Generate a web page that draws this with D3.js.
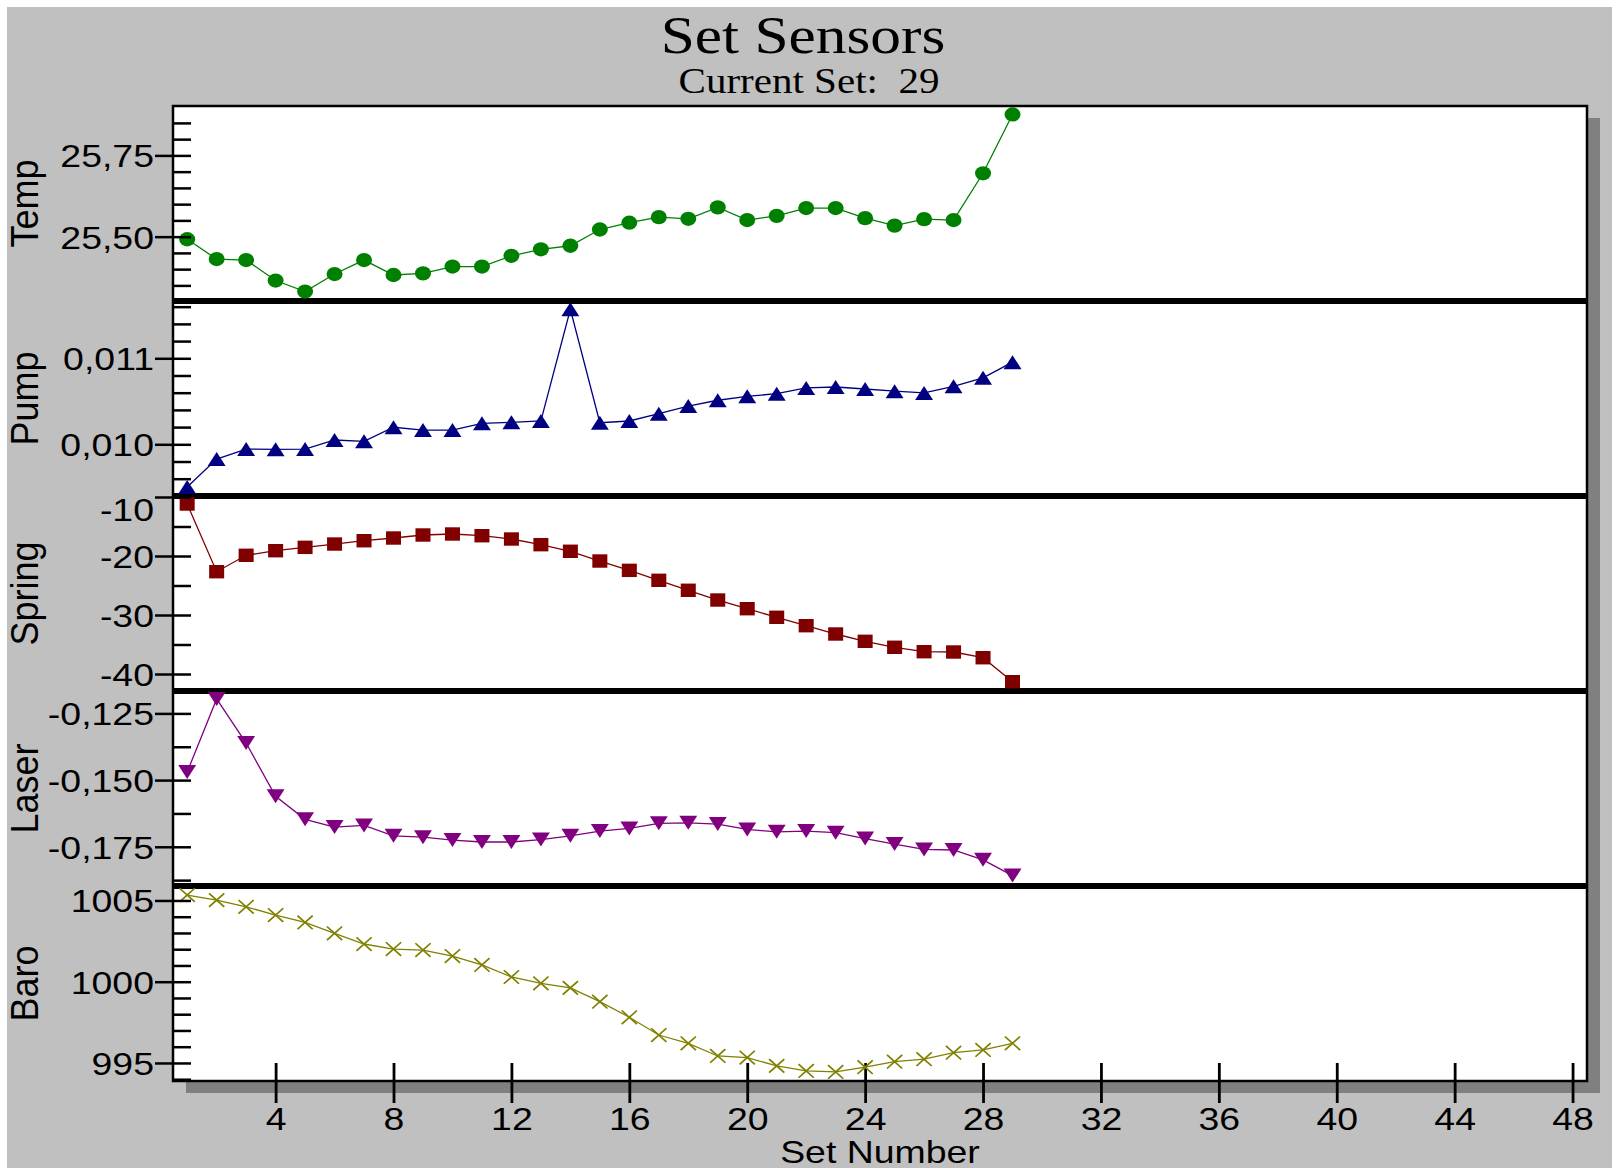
<!DOCTYPE html>
<html>
<head>
<meta charset="utf-8">
<script src="https://cdn.jsdelivr.net/npm/d3@7"></script>
<style>
  body { margin: 0; background: #fff; }
  svg { display: block; }
  text { font-family: "Liberation Sans", Arial, sans-serif; fill: #000; }
</style>
</head>
<body>
<div id="chart"></div>
<script>
// set numbers (x axis)
var sets = [1, 2, 3, 4, 5, 6, 7, 8, 9, 10, 11, 12, 13, 14, 15, 16, 17, 18, 19, 20, 21, 22, 23, 24, 25, 26, 27, 28, 29];
var xTicks = [4, 8, 12, 16, 20, 24, 28, 32, 36, 40, 44, 48];

// sensor readings, one value per set
var tempValues = [25.492, 25.431, 25.428, 25.365, 25.331, 25.385, 25.428, 25.382, 25.387, 25.408,
    25.408, 25.441, 25.461, 25.472, 25.522, 25.543, 25.560, 25.555, 25.590, 25.551,
    25.564, 25.588, 25.588, 25.557, 25.534, 25.554, 25.551, 25.695, 25.876];
var pumpValues = [0.009503, 0.009829, 0.009945, 0.009942, 0.009945, 0.010050, 0.010035, 0.010198, 0.010166, 0.010166,
    0.010244, 0.010256, 0.010271, 0.011570, 0.010251, 0.010271, 0.010356, 0.010445, 0.010512, 0.010558,
    0.010588, 0.010655, 0.010666, 0.010643, 0.010618, 0.010597, 0.010674, 0.010773, 0.010955];
var springValues = [-11.19, -22.66, -19.88, -19.10, -18.53, -17.97, -17.41, -16.95, -16.44, -16.27,
    -16.56, -17.12, -18.08, -19.20, -20.85, -22.43, -24.12, -25.81, -27.46, -28.93,
    -30.39, -31.81, -33.22, -34.46, -35.47, -36.22, -36.27, -37.24, -41.30];
var laserValues = [-0.1470, -0.1196, -0.1361, -0.1561, -0.1647, -0.1676, -0.1670, -0.1709, -0.1714, -0.1725,
    -0.1732, -0.1732, -0.1723, -0.1709, -0.1691, -0.1681, -0.1662, -0.1660, -0.1665, -0.1685,
    -0.1694, -0.1691, -0.1697, -0.1719, -0.1740, -0.1760, -0.1762, -0.1799, -0.1858];
var baroValues = [1005.33, 1005.02, 1004.61, 1004.10, 1003.65, 1002.98, 1002.32, 1002.01, 1001.95, 1001.58,
    1001.03, 1000.29, 999.90, 999.62, 998.77, 997.81, 996.72, 996.21, 995.43, 995.33,
    994.82, 994.51, 994.45, 994.74, 995.08, 995.23, 995.63, 995.80, 996.21];

// y ticks per panel
var tempMajor = [25.50, 25.75];
var tempMinor = [25.35, 25.40, 25.45, 25.55, 25.60, 25.65, 25.70, 25.80, 25.85];
var pumpMajor = [0.010, 0.011];
var pumpMinor = [0.0096, 0.0098, 0.0102, 0.0104, 0.0106, 0.0108, 0.0112, 0.0114, 0.0116];
var springMajor = [-40, -30, -20, -10];
var springMinor = [-35, -25, -15];
var laserMajor = [-0.175, -0.150, -0.125];
var laserMinor = [-0.1875, -0.1625, -0.1375];
var baroMajor = [995, 1000, 1005];
var baroMinor = [994, 996, 997, 998, 999, 1001, 1002, 1003, 1004];

var comma = d3.formatLocale({ decimal: ",", thousands: ".", grouping: [3], currency: ["", ""], minus: "-" });

var panels = [
    { name: "Temp", values: tempValues, domain: [25.302, 25.902], major: tempMajor, minor: tempMinor,
      format: comma.format(".2f"), color: "#008000", marker: "circle" },
    { name: "Pump", values: pumpValues, domain: [0.009399, 0.011666], major: pumpMajor, minor: pumpMinor,
      format: comma.format(".3f"), color: "#000080", marker: "up" },
    { name: "Spring", values: springValues, domain: [-42.88, -9.83], major: springMajor, minor: springMinor,
      format: comma.format("d"), color: "#800000", marker: "square" },
    { name: "Laser", values: laserValues, domain: [-0.1897, -0.1166], major: laserMajor, minor: laserMinor,
      format: comma.format(".3f"), color: "#800080", marker: "down" },
    { name: "Baro", values: baroValues, domain: [993.89, 1005.89], major: baroMajor, minor: baroMinor,
      format: comma.format("d"), color: "#808000", marker: "cross" }
];

var width = 1614;
var height = 1168;
var plotLeft = 173, plotRight = 1587, plotTop = 106, plotBottom = 1081;
var panelH = (plotBottom - plotTop) / panels.length;
var stretch = 1.17;

var markerPaths = {
    circle: d3.symbol(d3.symbolCircle, 160)(),
    square: d3.symbol(d3.symbolSquare, 180)(),
    up: "M0,-7L8,7L-8,7Z",
    down: "M0,7L8,-7L-8,-7Z",
    cross: "M-6.8,-6.8L6.8,6.8M-6.8,6.8L6.8,-6.8"
};

var svg = d3.select("#chart")
    .append("svg")
    .attr("width", width)
    .attr("height", height);

svg.append("rect")
    .attr("x", 7).attr("y", 7)
    .attr("width", 1605).attr("height", height - 7)
    .attr("fill", "#c0c0c0");

svg.append("text")
    .attr("transform", "translate(803,52.7) scale(1.18,1)")
    .attr("text-anchor", "middle")
    .style("font-family", "'Liberation Serif', 'Times New Roman', serif")
    .style("font-size", "52px")
    .text("Set Sensors");

svg.append("text")
    .attr("transform", "translate(809,92.7) scale(1.14,1)")
    .attr("text-anchor", "middle")
    .style("font-family", "'Liberation Serif', 'Times New Roman', serif")
    .style("font-size", "36px")
    .style("white-space", "pre")
    .text("Current Set:  29");

// shadow + plot area
svg.append("rect")
    .attr("x", plotLeft + 13).attr("y", plotTop + 12)
    .attr("width", plotRight - plotLeft).attr("height", plotBottom - plotTop)
    .attr("fill", "#808080");
svg.append("rect")
    .attr("x", plotLeft).attr("y", plotTop)
    .attr("width", plotRight - plotLeft).attr("height", plotBottom - plotTop)
    .attr("fill", "#fff");

var x = d3.scaleLinear()
    .domain([0.519, 48.49])
    .range([plotLeft, plotRight]);

// x axis: inner and outer tick marks
svg.append("g")
    .attr("transform", "translate(0," + plotBottom + ")")
    .call(d3.axisBottom(x).tickValues(xTicks).tickSize(-18).tickSizeOuter(0).tickFormat(""))
    .call(function (g) { g.select(".domain").remove(); })
    .selectAll("line").attr("stroke", "#000").attr("stroke-width", 2.8);

var xAxis = svg.append("g")
    .attr("transform", "translate(0," + plotBottom + ")")
    .call(d3.axisBottom(x).tickValues(xTicks).tickSize(22).tickSizeOuter(0).tickFormat(d3.format("d")));
xAxis.select(".domain").remove();
xAxis.selectAll("line").attr("stroke", "#000").attr("stroke-width", 2.8);
xAxis.selectAll("text")
    .attr("y", null).attr("dy", null)
    .attr("transform", "translate(0,48.5) scale(" + stretch + ",1)")
    .style("font-size", "32px");

svg.append("text")
    .attr("transform", "translate(880,1162.7) scale(" + stretch + ",1)")
    .attr("text-anchor", "middle")
    .style("font-size", "32px")
    .text("Set Number");

var dividers = svg.append("g");
var series = svg.append("g");

panels.forEach(function (p, i) {
    var top = plotTop + i * panelH;
    var bottom = top + panelH;
    var y = d3.scaleLinear().domain(p.domain).range([bottom, top]);

    // tick marks inside the plot
    var inner = svg.append("g")
        .attr("transform", "translate(" + plotLeft + ",0)")
        .call(d3.axisLeft(y).tickValues(p.minor.concat(p.major)).tickSize(-18).tickSizeOuter(0).tickFormat(""));
    inner.select(".domain").remove();
    inner.selectAll("line").attr("stroke", "#000").attr("stroke-width", 2.5);

    // major ticks outside + labels
    var outer = svg.append("g")
        .attr("transform", "translate(" + plotLeft + ",0)")
        .call(d3.axisLeft(y).tickValues(p.major).tickSize(18).tickSizeOuter(0).tickFormat(p.format));
    outer.select(".domain").remove();
    outer.selectAll("line").attr("stroke", "#000").attr("stroke-width", 2.5);
    outer.selectAll("text")
        .attr("x", null).attr("dy", null)
        .attr("transform", function (d) {
            var shift = Math.max(0, top + 13 - y(d));
            return "translate(-19," + (11.5 + shift) + ") scale(" + stretch + ",1)";
        })
        .style("font-size", "32px");

    svg.append("text")
        .attr("transform", "translate(38," + (top + panelH / 2) + ") scale(1.08,1) rotate(-90)")
        .attr("text-anchor", "middle")
        .style("font-size", "36px")
        .text(p.name);

    if (i > 0) {
        dividers.append("line")
            .attr("x1", plotLeft).attr("x2", plotRight)
            .attr("y1", top).attr("y2", top)
            .attr("stroke", "#000").attr("stroke-width", 6);
    }

    var line = d3.line()
        .x(function (d, j) { return x(sets[j]); })
        .y(function (d) { return y(d); });

    series.append("path")
        .datum(p.values)
        .attr("d", line)
        .attr("fill", "none")
        .attr("stroke", p.color)
        .attr("stroke-width", 1.3);

    series.selectAll(".m" + i)
        .data(p.values)
        .enter()
        .append("path")
        .attr("class", "m" + i)
        .attr("transform", function (d, j) {
            return "translate(" + x(sets[j]) + "," + y(d) + ") scale(1.12,1)";
        })
        .attr("d", markerPaths[p.marker])
        .attr("fill", p.marker === "cross" ? "none" : p.color)
        .attr("stroke", p.marker === "cross" ? p.color : "none")
        .attr("stroke-width", 1.6);
});

// plot border on top
svg.append("rect")
    .attr("x", plotLeft).attr("y", plotTop)
    .attr("width", plotRight - plotLeft).attr("height", plotBottom - plotTop)
    .attr("fill", "none")
    .attr("stroke", "#000")
    .attr("stroke-width", 2.5);
</script>
</body>
</html>
